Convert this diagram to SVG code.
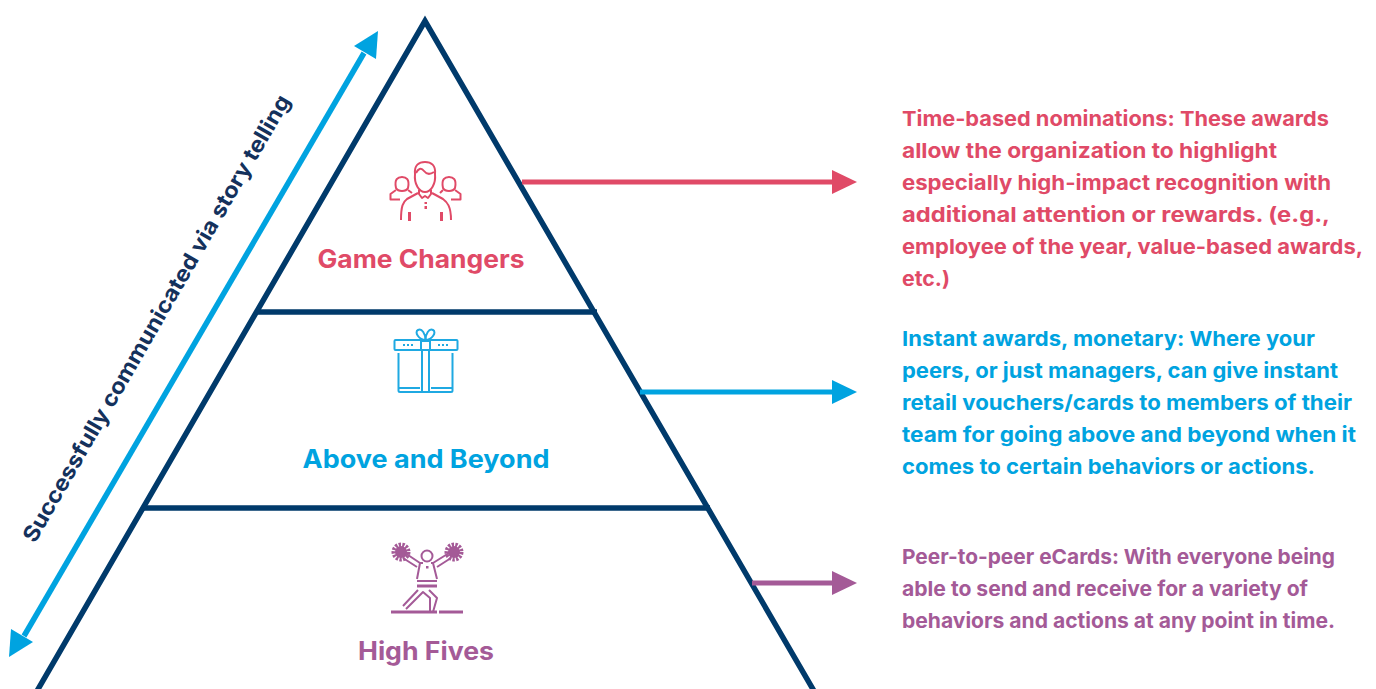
<svg xmlns="http://www.w3.org/2000/svg" width="1376" height="689" viewBox="0 0 1376 689">
<style>
text{font-family:"Inter","Liberation Sans",sans-serif;font-weight:700}
.d{font-size:20.5px}
.t{font-size:25px;text-anchor:middle}
.r{fill:#e04a67}.b{fill:#00a3e0}.p{fill:#a45a97}
.i{fill:none;stroke-width:2;stroke-linecap:butt;stroke-linejoin:round}
.ir{stroke:#e04a67}.ib{stroke:#1fa9e2}.ip{stroke:#a45a97}
.m{fill:none;stroke:#003a6b;stroke-width:5.500}
</style>
<rect width="1376" height="689" fill="#fff"/>
<g id="pyramid">
<path class="m" d="M37 691L425 21L814 691"/>
<path class="m" d="M257 312H597M144 508H710"/>
</g>
<g id="connectors">
<path d="M522 182H834" stroke="#e04a67" stroke-width="5"/><path class="r" d="M832 170L857 182L832 194Z"/>
<path d="M640 392H834" stroke="#00a3e0" stroke-width="5"/><path class="b" d="M832 380L857 392L832 404Z"/>
<path d="M752 583H834" stroke="#a45a97" stroke-width="5"/><path class="p" d="M832 571L857 583L832 595Z"/>
<path d="M24 636L364 53" stroke="#00a3e0" stroke-width="5.500"/>
<path class="b" d="M378 31L376 59L354 46Z"/><path class="b" d="M9 657L11 629L33 642Z"/>
</g>
<g id="side-label">
<text transform="translate(35 544) rotate(-60)" font-size="22" fill="#14315c" textLength="512" lengthAdjust="spacingAndGlyphs">Successfully communicated via story telling</text>
</g>
<g id="game-changers">
<g class="i ir">
<path d="M415 174C414 165 419 162 425 162C431 162 436 165 435 174C436 184 431 192 425 192C419 192 414 184 415 174Z"/>
<path d="M416 173C418 169 421 167 424 171C427 175 431 174 434 172"/>
<path d="M419 190V194L422 198L425 196L428 198L431 194V190M418 193L407 199C403 202 401 206 401 220M432 193L443 199C447 202 451 206 451 220"/>
<path d="M396 188C394 179 398 177 402 177C406 177 410 179 408 188C406 192 398 192 396 188Z"/>
<path d="M443 188C441 179 445 177 449 177C453 177 457 179 455 188C453 192 445 192 443 188Z"/>
<path d="M396 190L390.500 194V199.500H400M408 190L412 193M455 190L460.500 194V199.500H451M443 190L440 193"/>
</g>
<path class="r" d="M408 212h3v9h-3zM440 212h3v9h-3zM424.500 202h2.500v2h-2.500zM424.500 206h2.500v3h-2.500z"/>
<text class="t r" x="421" y="268" textLength="207" lengthAdjust="spacingAndGlyphs">Game Changers</text>
</g>
<g id="above-and-beyond">
<g class="i ib">
<rect x="394.500" y="340" width="63" height="10" rx="1"/>
<rect x="421" y="341" width="9" height="9"/>
<path d="M398.500 353V390.500Q398.500 392 400 392H451Q452.500 392 452.500 390.500V353"/>
<path d="M422 350V392M429 350V392"/>
<path d="M425.500 340C419 340 414 332 418 330C422 328 425.500 334 425.500 340C425.500 334 429 328 433 330C437 332 432 340 425.500 340Z"/>
</g>
<path d="M399 388H420M431 388H452" stroke="#1fa9e2" stroke-width="2"/>
<path d="M403 345H413M438 345H448" stroke="#1fa9e2" stroke-width="2" stroke-dasharray="2 2"/>
<text class="t b" x="426" y="468" textLength="247" lengthAdjust="spacingAndGlyphs">Above and Beyond</text>
</g>
<g id="high-fives">
<circle class="p" cx="401" cy="552" r="6"/><circle class="p" cx="454" cy="552" r="6"/>
<circle cx="401" cy="552" r="7" fill="none" stroke="#a45a97" stroke-width="5" stroke-dasharray="2.200 1.200"/>
<circle cx="454" cy="552" r="7" fill="none" stroke="#a45a97" stroke-width="5" stroke-dasharray="2.200 1.200"/>
<g class="i ip">
<circle cx="427" cy="556" r="5.500"/>
<path d="M405 553L420 563L417 579M449 553L433 563L437 579M420 563H423M433 563H431"/>
<path d="M403 558L417 567M451 558L437 567"/>
<path d="M417 581H437"/>
<path d="M403 606L418 590M406 609L423 592L430 598L430 612M429 590L437 598L433 612"/>
</g>
<path d="M417 586H437" stroke="#a45a97" stroke-width="3"/>
<path d="M391 612H437M439 612H463" stroke="#a45a97" stroke-width="3"/>
<rect class="p" x="426" y="566" width="2.500" height="2.500"/>
<text class="t p" x="426" y="660" textLength="136" lengthAdjust="spacingAndGlyphs">High Fives</text>
</g>
<g id="desc-game-changers" class="d r">
<text x="902" y="126" textLength="427" lengthAdjust="spacingAndGlyphs">Time-based nominations: These awards</text>
<text x="902" y="158" textLength="375" lengthAdjust="spacingAndGlyphs">allow the organization to highlight</text>
<text x="902" y="190" textLength="429" lengthAdjust="spacingAndGlyphs">especially high-impact recognition with</text>
<text x="902" y="222" textLength="428" lengthAdjust="spacingAndGlyphs">additional attention or rewards. (e.g.,</text>
<text x="902" y="254" textLength="461" lengthAdjust="spacingAndGlyphs">employee of the year, value-based awards,</text>
<text x="902" y="286" textLength="48" lengthAdjust="spacingAndGlyphs">etc.)</text>
</g>
<g id="desc-above-and-beyond" class="d b">
<text x="902" y="346" textLength="413" lengthAdjust="spacingAndGlyphs">Instant awards, monetary: Where your</text>
<text x="902" y="378" textLength="436" lengthAdjust="spacingAndGlyphs">peers, or just managers, can give instant</text>
<text x="902" y="410" textLength="450" lengthAdjust="spacingAndGlyphs">retail vouchers/cards to members of their</text>
<text x="902" y="442" textLength="454" lengthAdjust="spacingAndGlyphs">team for going above and beyond when it</text>
<text x="902" y="474" textLength="413" lengthAdjust="spacingAndGlyphs">comes to certain behaviors or actions.</text>
</g>
<g id="desc-high-fives" class="d p">
<text x="902" y="564" textLength="433" lengthAdjust="spacingAndGlyphs">Peer-to-peer eCards: With everyone being</text>
<text x="902" y="596" textLength="406" lengthAdjust="spacingAndGlyphs">able to send and receive for a variety of</text>
<text x="902" y="628" textLength="433" lengthAdjust="spacingAndGlyphs">behaviors and actions at any point in time.</text>
</g>
</svg>
